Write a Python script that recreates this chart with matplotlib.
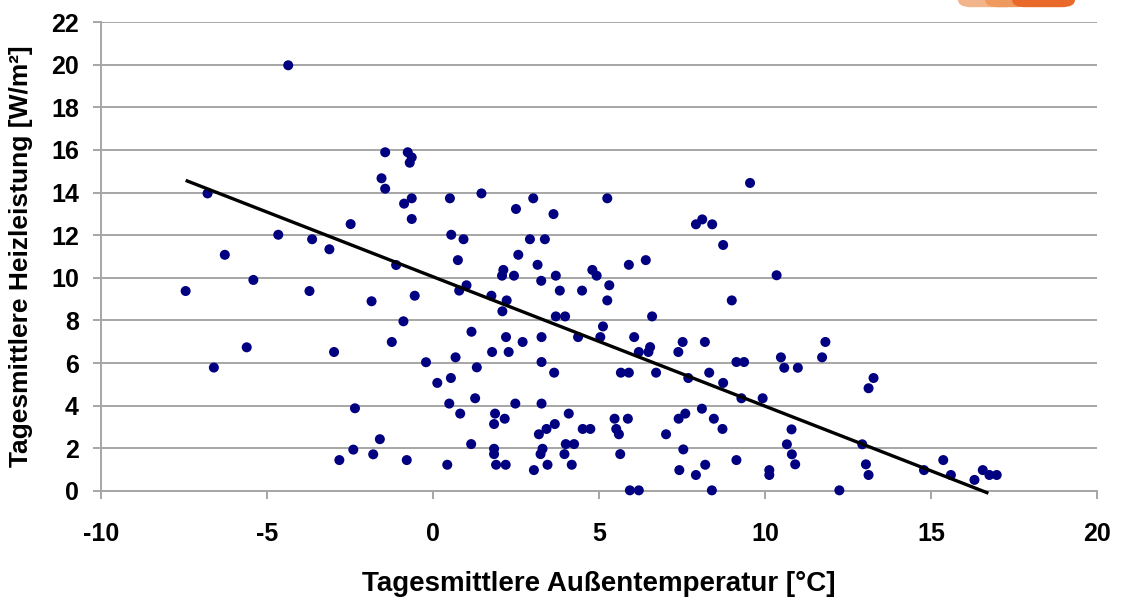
import matplotlib
matplotlib.use("Agg")
import matplotlib.pyplot as plt
from matplotlib.patches import FancyBboxPatch
import numpy as np

# daily mean outdoor temperature [°C] and daily mean heating power [W/m²]
temp = [
    -4.36, -6.79, -1.44, -0.76, -0.64, -0.70, -1.55, -1.44, -0.64, -0.87,
    -0.64, -2.48, -4.66, -3.64, -3.12, -6.27, -1.11, -5.41, -7.45, -3.72,
    -1.85, -0.55, -0.89, -1.24, -5.61, -2.98, -0.21, -6.60, 0.13, -2.35,
    -1.60, -2.40, -1.80, -2.82, -0.79, 0.51, 1.46, 3.02, 5.25, 9.55,
    2.50, 3.63, 0.55, 0.92, 2.92, 3.37, 7.92, 8.11, 8.41, 8.74,
    0.75, 2.57, 3.15, 2.12, 2.08, 2.44, 3.26, 3.70, 4.80, 4.93,
    5.90, 6.41, 1.01, 0.79, 1.76, 2.22, 3.82, 4.49, 5.31, 5.25,
    9.00, 2.09, 3.70, 3.98, 6.60, 1.16, 5.12, 2.20, 2.70, 3.27,
    4.37, 5.04, 6.06, 7.52, 8.19, 1.78, 2.28, 6.20, 6.49, 6.54,
    7.39, 0.68, 3.27, 9.14, 9.37, 1.32, 3.65, 5.66, 5.90, 6.72,
    8.32, 7.69, 0.54, 8.74, 1.27, 9.29, 9.93, 0.49, 2.48, 3.27,
    0.82, 1.87, 2.16, 4.09, 5.47, 5.87, 7.40, 7.60, 8.10, 8.46,
    1.84, 3.67, 3.42, 3.19, 4.51, 4.74, 5.52, 5.60, 8.72, 7.02,
    1.15, 4.00, 4.25, 1.84, 3.30, 7.54, 1.84, 3.24, 3.96, 5.64,
    9.14, 0.43, 1.90, 2.19, 3.45, 4.18, 8.20, 3.04, 7.42, 7.92,
    5.93, 6.20, 8.40, 10.35, 10.48, 10.58, 10.99, 11.72, 11.82, 13.12,
    13.27, 10.80, 10.66, 10.81, 10.91, 10.13, 10.13, 12.24, 12.93, 13.04,
    13.12, 14.79, 15.37, 15.60, 16.31, 16.56, 16.76, 16.98,
]
power = [
    19.97, 13.96, 15.89, 15.89, 15.65, 15.40, 14.67, 14.18, 13.73, 13.48,
    12.76, 12.52, 12.02, 11.81, 11.34, 11.08, 10.60, 9.90, 9.38, 9.38,
    8.90, 9.16, 7.96, 6.99, 6.74, 6.52, 6.04, 5.79, 5.07, 3.88,
    2.43, 1.94, 1.72, 1.45, 1.45, 13.73, 13.96, 13.73, 13.73, 14.45,
    13.23, 12.99, 12.02, 11.81, 11.81, 11.81, 12.51, 12.74, 12.51, 11.54,
    10.83, 11.08, 10.61, 10.37, 10.10, 10.10, 9.86, 10.10, 10.37, 10.10,
    10.61, 10.83, 9.65, 9.40, 9.16, 8.94, 9.40, 9.40, 9.65, 8.94,
    8.94, 8.43, 8.19, 8.19, 8.19, 7.47, 7.72, 7.22, 6.99, 7.22,
    7.22, 7.22, 7.22, 6.99, 6.99, 6.52, 6.52, 6.52, 6.52, 6.75,
    6.52, 6.27, 6.05, 6.05, 6.05, 5.80, 5.55, 5.55, 5.55, 5.55,
    5.55, 5.30, 5.30, 5.07, 4.35, 4.35, 4.35, 4.10, 4.10, 4.10,
    3.63, 3.63, 3.39, 3.63, 3.39, 3.39, 3.39, 3.63, 3.86, 3.39,
    3.14, 3.14, 2.91, 2.66, 2.91, 2.91, 2.91, 2.66, 2.91, 2.66,
    2.20, 2.20, 2.20, 1.98, 1.98, 1.95, 1.73, 1.73, 1.73, 1.73,
    1.45, 1.23, 1.23, 1.23, 1.23, 1.23, 1.23, 0.98, 0.98, 0.75,
    0.03, 0.03, 0.03, 10.12, 6.27, 5.78, 5.78, 6.27, 6.99, 4.82,
    5.30, 2.89, 2.19, 1.72, 1.25, 0.98, 0.75, 0.03, 2.19, 1.25,
    0.75, 0.98, 1.45, 0.75, 0.52, 0.98, 0.75, 0.75,
]

# linear trend line as drawn in the chart
trend_x = [-7.45, 16.73]
trend_slope = -0.607
trend_intercept = 10.05

x_ticks = [-10, -5, 0, 5, 10, 15, 20]
y_ticks = [0, 2, 4, 6, 8, 10, 12, 14, 16, 18, 20, 22]

plt.rcParams['font.family'] = ['Liberation Sans', 'DejaVu Sans']

fig = plt.figure(figsize=(11.22, 6.0), dpi=100)
ax = fig.add_axes([0.090, 0.1817, 0.8877, 0.7816])

grid_col = '#a6a6a6'
for yt in y_ticks:
    ax.axhline(yt, color=grid_col, linewidth=1.4, zorder=1)

ax.scatter(temp, power, s=52, color='#000080', edgecolors='none', zorder=3, clip_on=False)

tx = np.array(trend_x)
ax.plot(tx, trend_intercept + trend_slope * tx, color='black', linewidth=2.4,
        zorder=4, clip_on=False, solid_capstyle='butt')

ax.set_xlim(-10, 20)
ax.set_ylim(0, 22)
ax.set_xticks(x_ticks)
ax.set_yticks(y_ticks)
ax.set_xticklabels([str(v) for v in x_ticks], fontsize=18, fontweight='bold')
ax.set_yticklabels([str(v) for v in y_ticks], fontsize=18, fontweight='bold')

for side in ['top', 'right']:
    ax.spines[side].set_visible(False)
for side in ['left', 'bottom']:
    ax.spines[side].set_color(grid_col)
    ax.spines[side].set_linewidth(1.4)
ax.tick_params(axis='both', direction='out', color=grid_col, width=1.4, length=6)
ax.tick_params(axis='x', pad=16)
ax.tick_params(axis='y', pad=10)

ax.set_xlabel('Tagesmittlere Außentemperatur [°C]', fontsize=20, fontweight='bold', labelpad=18)
ax.set_ylabel('Tagesmittlere Heizleistung [W/m²]', fontsize=19, fontweight='bold', labelpad=13)

# cut-off orange logo at the top right
for x0, w, col in [(958, 60, '#f2b48a'), (985, 45, '#ee9a5e'), (1012, 63, '#e8692a')]:
    fig.patches.append(FancyBboxPatch((x0 / 1122, 0.988), w / 1122, 0.03,
                                      boxstyle='round,pad=0,rounding_size=0.012',
                                      transform=fig.transFigure, facecolor=col,
                                      edgecolor='none'))

fig.savefig('out.png', dpi=100)
